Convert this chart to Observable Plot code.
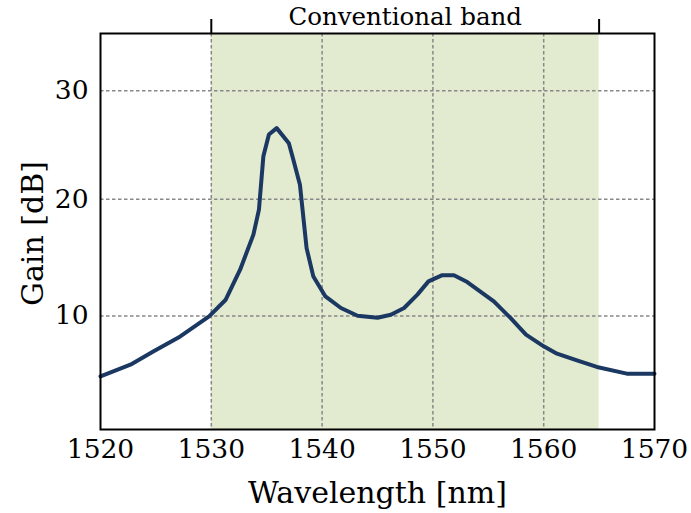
<!DOCTYPE html>
<html>
<head>
<meta charset="utf-8">
<script src="https://cdn.jsdelivr.net/npm/d3@7"></script>
<script src="https://cdn.jsdelivr.net/npm/@observablehq/plot@0.6"></script>
<style>
  html, body { margin: 0; padding: 0; background: #fff; }
  #chart svg { display: block; }
</style>
</head>
<body>
<div id="chart"></div>
<script>
// Data
const wavelength = [1520.0,1522.7,1524.8,1527.2,1529.8,1531.3,1532.6,1533.8,1534.3,1534.7,1535.2,1535.9,1537.0,1537.4,1538.0,1538.6,1539.2,1540.3,1541.7,1543.2,1545.0,1546.2,1547.4,1548.6,1549.6,1550.8,1551.9,1553.1,1555.5,1557.0,1558.4,1560.0,1561.2,1563.0,1564.8,1567.5,1570.0];
const gain = [5.29,6.16,7.19,8.36,9.97,11.33,13.85,16.87,19.08,23.9,25.9,26.5,25.1,23.6,21.3,15.7,13.3,11.6,10.65,10.02,9.86,10.1,10.65,11.75,12.86,13.37,13.37,12.8,11.2,9.84,8.5,7.58,7.01,6.49,5.99,5.49,5.49];
const band = [1530, 1565];
const bandLabel = "Conventional band";
const xTicks = [1520, 1530, 1540, 1550, 1560, 1570];
const yTicks = [10, 20, 30];
const xGrid = [1530, 1540, 1550, 1560];
const xLabel = "Wavelength [nm]";
const yLabel = "Gain [dB]";

const points = wavelength.map((w, i) => ({w, g: gain[i]}));
const bandMid = (band[0] + band[1]) / 2;

const serif = "DejaVu Serif";
const grid = {stroke: "#888", strokeWidth: 1.5, strokeDasharray: "3.5,2.5"};

const chart = Plot.plot({
  width: 691,
  height: 513,
  marginLeft: 100,
  marginRight: 37,
  marginTop: 33,
  marginBottom: 84,
  style: {fontFamily: serif, color: "#000", background: "#fff"},
  x: {domain: [1520, 1570]},
  y: {type: "pow", exponent: 0.86, domain: [1.6, 35.5]},
  marks: [
    Plot.rect([{x1: band[0], x2: band[1]}], {x1: "x1", x2: "x2", fill: "#e2eacf"}),
    Plot.ruleX(xGrid, grid),
    Plot.ruleY(yTicks, grid),
    Plot.line(points, {x: "w", y: "g", stroke: "#1b3863", strokeWidth: 4}),
    Plot.frame({stroke: "#000", strokeWidth: 2}),
    Plot.axisX({ticks: xTicks, tickSize: 0, tickPadding: 10, fontSize: 26.5, fontFamily: serif, label: null, tickFormat: d => String(d)}),
    Plot.axisY({ticks: yTicks, tickSize: 0, tickPadding: 12, fontSize: 26.5, fontFamily: serif, label: null}),
    Plot.axisX({anchor: "top", ticks: band, tickSize: 15, strokeWidth: 2, tickFormat: () => "", label: null}),
    Plot.text([bandMid], {x: d => d, text: () => bandLabel, frameAnchor: "top", dy: -16, lineAnchor: "middle", fontSize: 24.5, fontFamily: serif}),
    Plot.text([xLabel], {text: d => d, frameAnchor: "bottom", dy: 64, lineAnchor: "middle", fontSize: 30, fontFamily: serif}),
    Plot.text([yLabel], {text: d => d, frameAnchor: "left", textAnchor: "middle", rotate: -90, dx: -67, dy: 2, lineAnchor: "middle", fontSize: 30, fontFamily: serif})
  ]
});
document.getElementById("chart").appendChild(chart);
</script>
</body>
</html>
